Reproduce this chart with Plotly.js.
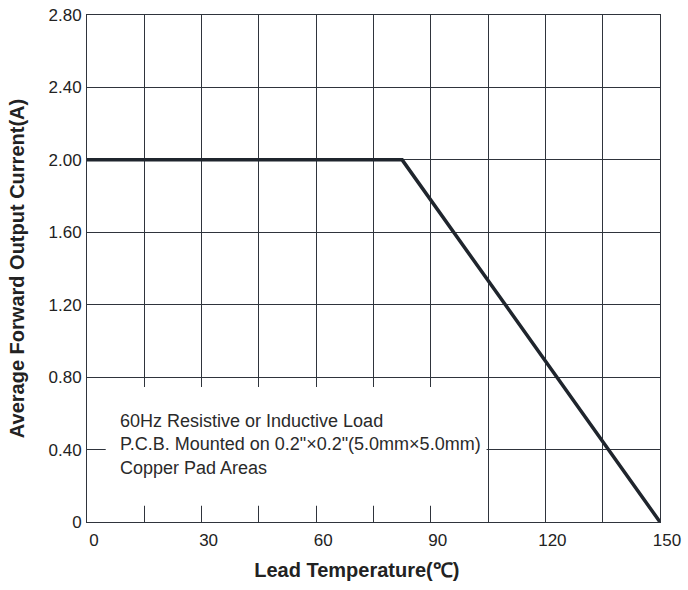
<!DOCTYPE html>
<html>
<head>
<meta charset="utf-8">
<script src="https://cdn.plot.ly/plotly-3.0.1.min.js"></script>
<style>html,body{margin:0;padding:0;background:#fff;}#chart{width:688px;height:590px;}</style>
</head>
<body>
<div id="chart"></div>
<script>
// Derating curve data
const leadTemperature = [0, 82.5, 150];
const forwardCurrent = [2.0, 2.0, 0];

const xTickVals = [0, 30, 60, 90, 120, 150];
const xTickText = ["0", "30", "60", "90", "120", "150"];
const yTickVals = [0, 0.4, 0.8, 1.2, 1.6, 2.0, 2.4, 2.8];
const yTickText = ["0", "0.40", "0.80", "1.20", "1.60", "2.00", "2.40", "2.80"];

const noteLines = [
  "60Hz Resistive or Inductive Load",
  "P.C.B. Mounted on 0.2\"×0.2\"(5.0mm×5.0mm)",
  "Copper Pad Areas"
];

const gridColor = "#2f343c";
const fontFamily = "Liberation Sans, Arial, sans-serif";
const pad = "\u00a0\u00a0\u00a0\u00a0\u00a0\u00a0";

const trace = {
  x: leadTemperature,
  y: forwardCurrent,
  type: "scatter",
  mode: "lines",
  line: {color: "#1f252d", width: 3.5},
  hoverinfo: "skip",
  showlegend: false
};

const layout = {
  width: 688,
  height: 590,
  margin: {l: 87, r: 28, t: 15, b: 68},
  paper_bgcolor: "#ffffff",
  plot_bgcolor: "#ffffff",
  font: {family: fontFamily, color: "#222222", size: 17},
  xaxis: {
    range: [0, 150],
    tickmode: "array",
    tickvals: xTickVals,
    ticktext: xTickText,
    ticks: "",
    ticklabelshift: 7,
    ticklabelstandoff: 3,
    showgrid: true,
    gridcolor: gridColor,
    gridwidth: 1,
    minor: {dtick: 15, showgrid: true, gridcolor: gridColor, gridwidth: 1, tickmode: "linear", tick0: 0},
    zeroline: false,
    showline: true,
    linecolor: gridColor,
    linewidth: 1,
    mirror: true,
    tickfont: {size: 17, color: "#222222"},
    title: {text: "<b>Lead Temperature(℃)" + pad + "</b>", font: {size: 20, color: "#222222"}, standoff: 13},
    fixedrange: true
  },
  yaxis: {
    range: [0, 2.8],
    tickmode: "array",
    tickvals: yTickVals,
    ticktext: yTickText,
    ticks: "",
    ticklabelstandoff: 1,
    showgrid: true,
    gridcolor: gridColor,
    gridwidth: 1,
    zeroline: false,
    showline: true,
    linecolor: gridColor,
    linewidth: 1,
    mirror: true,
    tickfont: {size: 17, color: "#222222"},
    title: {text: "<b>Average Forward Output Current(A)</b>", font: {size: 20, color: "#222222"}, standoff: 18},
    fixedrange: true
  },
  shapes: [{
    type: "rect",
    xref: "x", yref: "y",
    x0: 4.9, x1: 104.6, y0: 0.09, y1: 0.745,
    fillcolor: "#ffffff",
    line: {width: 0},
    layer: "between"
  }],
  annotations: [{
    xref: "x", yref: "y",
    x: 8.0, y: 0.43,
    xanchor: "left", yanchor: "middle",
    align: "left",
    showarrow: false,
    text: noteLines.join("<br>"),
    font: {size: 18, color: "#2a2a2a", family: fontFamily}
  }]
};

Plotly.newPlot("chart", [trace], layout, {displayModeBar: false, staticPlot: true});
</script>
</body>
</html>
